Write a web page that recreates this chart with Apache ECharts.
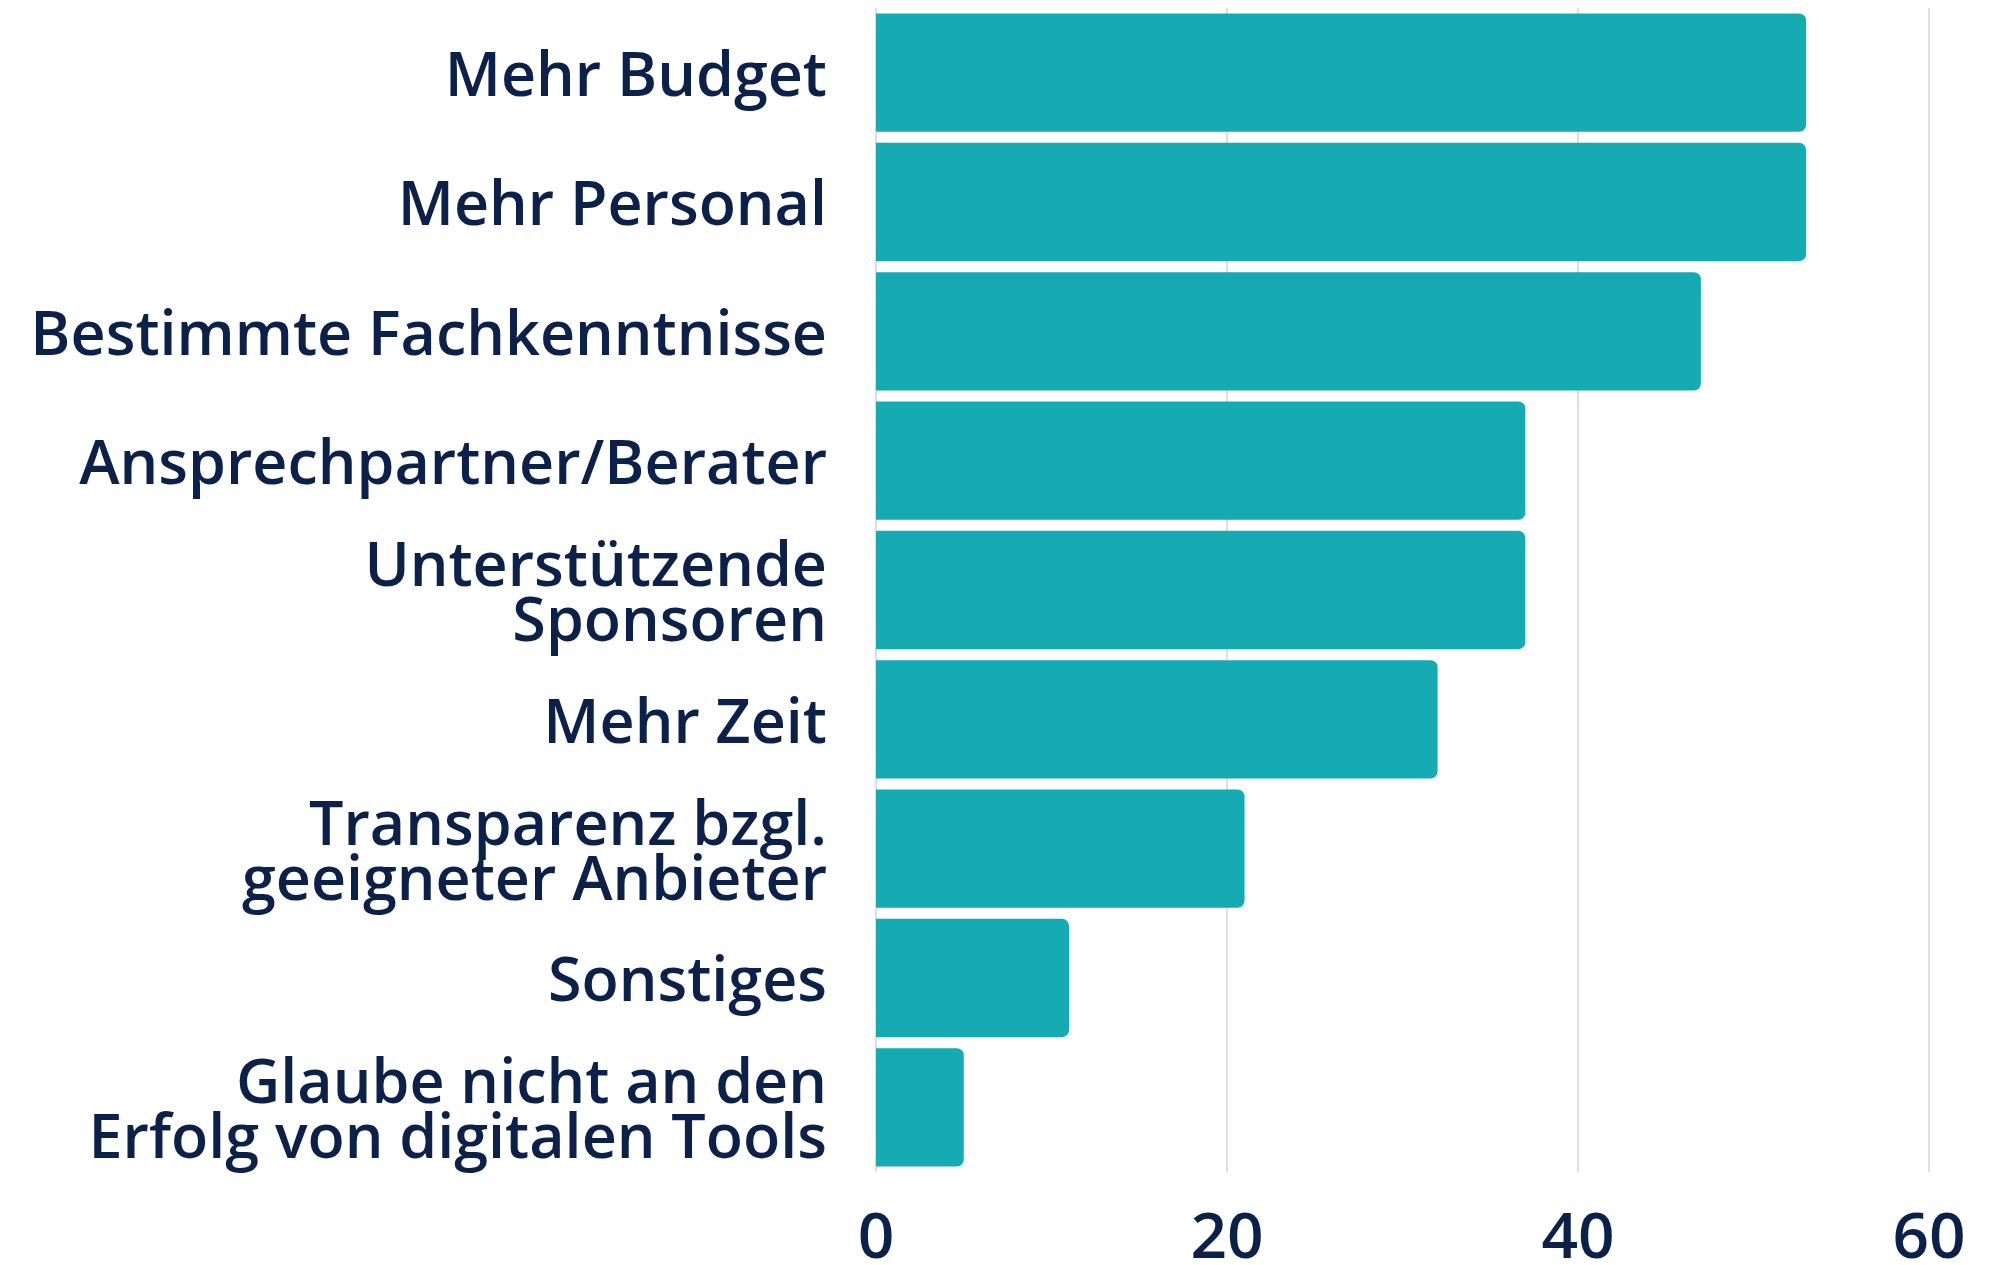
<!DOCTYPE html>
<html>
<head>
<meta charset="utf-8">
<script src="https://cdn.jsdelivr.net/npm/echarts@6/dist/echarts.min.js"></script>
<style>
  html, body { margin: 0; padding: 0; background: #fff; }
  #chart { width: 2010px; height: 1265px; }
</style>
</head>
<body>
<div id="chart"></div>
<script>
// Kategorien (oben nach unten)
var categories = [
  'Mehr Budget',
  'Mehr Personal',
  'Bestimmte Fachkenntnisse',
  'Ansprechpartner/Berater',
  'Unterstützende\nSponsoren',
  'Mehr Zeit',
  'Transparenz bzgl.\ngeeigneter Anbieter',
  'Sonstiges',
  'Glaube nicht an den\nErfolg von digitalen Tools'
];
var values = [53, 53, 47, 37, 37, 32, 21, 11, 5];
var xTicks = [0, 20, 40, 60];

var textColor = '#0c2149';
var barColor = '#16aab3';
var fontName = '"Open Sans", "Noto Sans", sans-serif';

var chart = echarts.init(document.getElementById('chart'));
var option = {
  animation: false,
  grid: {
    left: 876,
    right: 81,
    top: 8,
    bottom: 93,
    outerBoundsMode: 'none'
  },
  xAxis: {
    type: 'value',
    min: xTicks[0],
    max: xTicks[xTicks.length - 1],
    interval: 20,
    axisLine: { show: false },
    axisTick: { show: false },
    axisLabel: {
      color: textColor,
      fontFamily: fontName,
      fontWeight: 600,
      fontSize: 64,
      margin: 36
    },
    splitLine: {
      show: true,
      lineStyle: { color: '#cfd2e4', width: 1.5 }
    }
  },
  yAxis: {
    type: 'category',
    data: categories,
    inverse: true,
    axisLine: { show: false },
    axisTick: { show: false },
    axisLabel: {
      align: 'right',
      margin: 49,
      // leere Zeile oben schiebt den Text etwas unter die Balkenmitte
      formatter: function (v) {
        return '{sp| }\n' + v.split('\n').map(function (l) {
          return '{t|' + l + '}';
        }).join('\n');
      },
      rich: {
        sp: { fontSize: 1, lineHeight: 12 },
        t: {
          color: textColor,
          fontFamily: fontName,
          fontWeight: 600,
          fontSize: 61,
          lineHeight: 55
        }
      }
    }
  },
  series: [
    {
      type: 'bar',
      data: values,
      barCategoryGap: '8.5%',
      itemStyle: {
        color: barColor,
        borderRadius: [0, 7, 7, 0]
      }
    }
  ]
};
chart.setOption(option);
</script>
</body>
</html>
